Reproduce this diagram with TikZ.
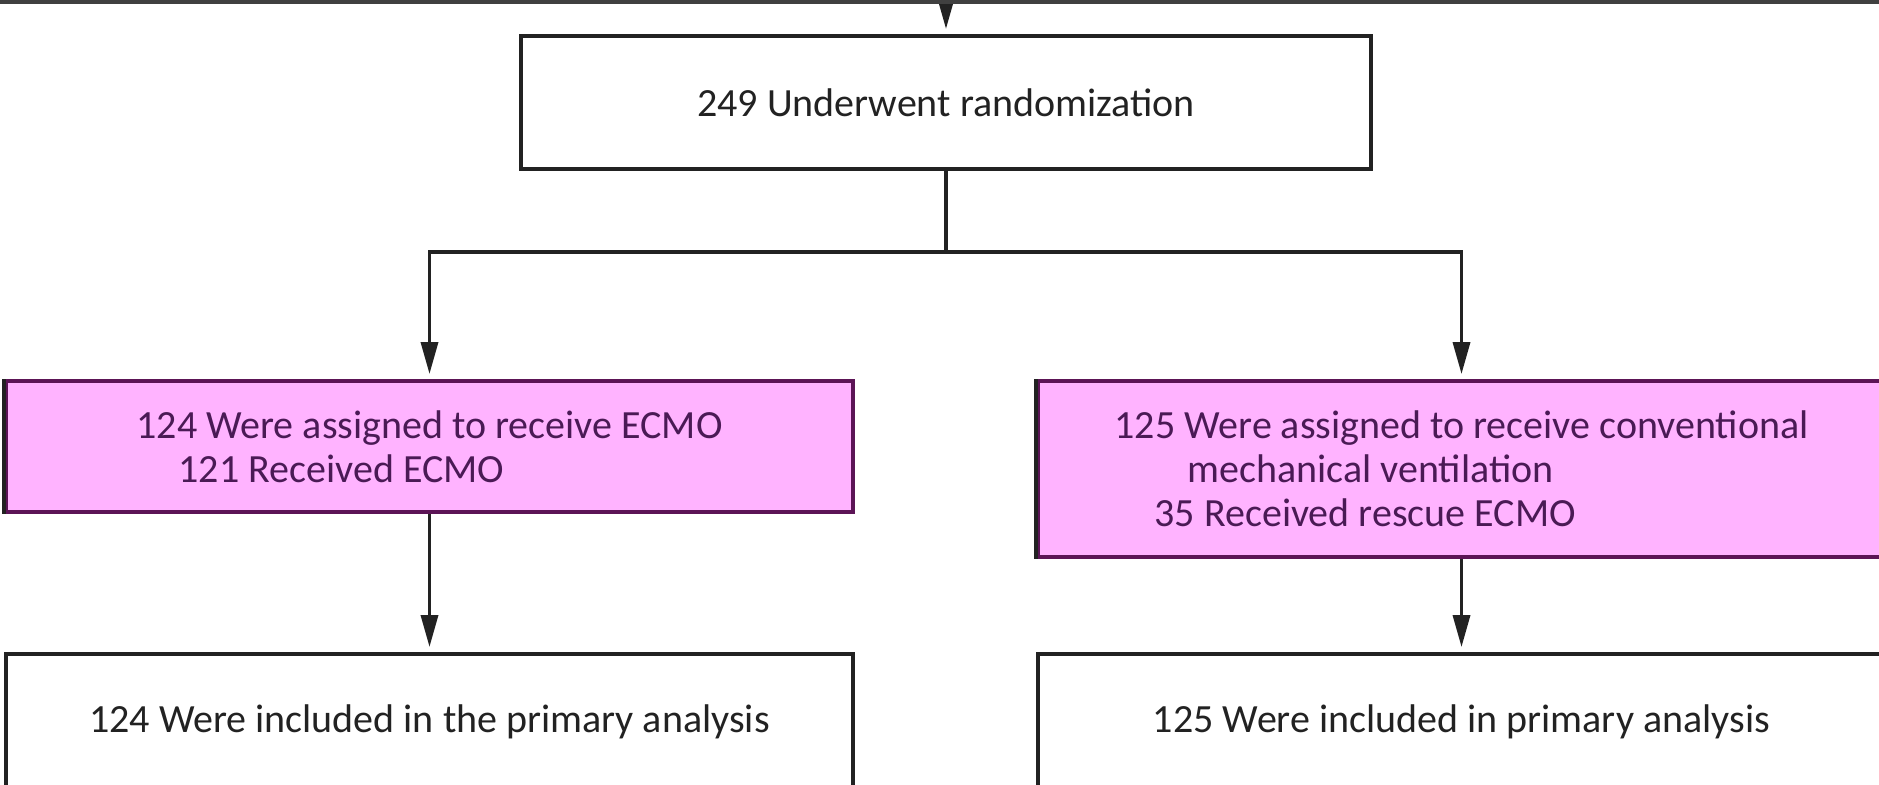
\documentclass[tikz,border=0pt]{standalone}
\usepackage{fontspec}
\setmainfont{Carlito}
\usetikzlibrary{arrows.meta}
\definecolor{dark}{HTML}{222222}
\definecolor{barcol}{HTML}{404040}
\definecolor{pinkfill}{HTML}{FFB3FF}
\definecolor{purpleline}{HTML}{5C1456}
\definecolor{pinktext}{HTML}{4A1A55}
\begin{document}
\begin{tikzpicture}[x=0.5pt,y=-0.5pt,
  box/.style={draw=dark, line width=2pt, fill=white, inner sep=0pt,
    minimum width=423.5pt, font=\fontsize{20}{22}\selectfont, text=dark},
  pinkbox/.style={box, draw=purpleline, fill=pinkfill, text=pinktext, align=left},
  conn/.style={draw=dark, line width=1.75pt, line join=miter},
  arr/.style={conn, -{Triangle[width=8.5pt,length=16pt]}, shorten >=2.5pt}]
\clip (0,0) rectangle (1879,784);
\useasboundingbox (0,0) rectangle (1879,784);
\fill[white] (0,0) rectangle (1879,784);

\node[box, minimum width=425pt, minimum height=66.5pt] (top) at (946,102.5) {249 Underwent randomization};
\node[pinkbox, minimum height=65.5pt] (lp) at (429.5,446.5)
  {124 Were assigned to receive ECMO\\\hspace*{21pt}121 Received ECMO};
\node[pinkbox, minimum height=88pt] (rp) at (1461.5,469)
  {125 Were assigned to receive conventional\\\hspace*{36.5pt}mechanical ventilation\\\hspace*{20pt}35 Received rescue ECMO};
\draw[dark, line width=2pt] (lp.north west) -- (lp.south west);
\draw[dark, line width=2pt] (rp.north west) -- (rp.south west);
\node[box, minimum height=68pt] (lb) at (429.5,722) {124 Were included in the primary analysis};
\node[box, minimum height=68pt] (rb) at (1461.5,722) {125 Were included in primary analysis};

\coordinate (entry) at (946,-20);
\coordinate (split) at (946,252);
\draw[arr] (entry) -- (top.north);
\draw[conn] (top.south) -- (split);
\draw[arr] (split) -| (lp.north);
\draw[arr] (split) -| (rp.north);
\draw[arr] (lp.south) -- (lb.north);
\draw[arr] (rp.south) -- (rb.north);

\fill[barcol] (0,0) rectangle (1879,4);
\end{tikzpicture}
\end{document}
